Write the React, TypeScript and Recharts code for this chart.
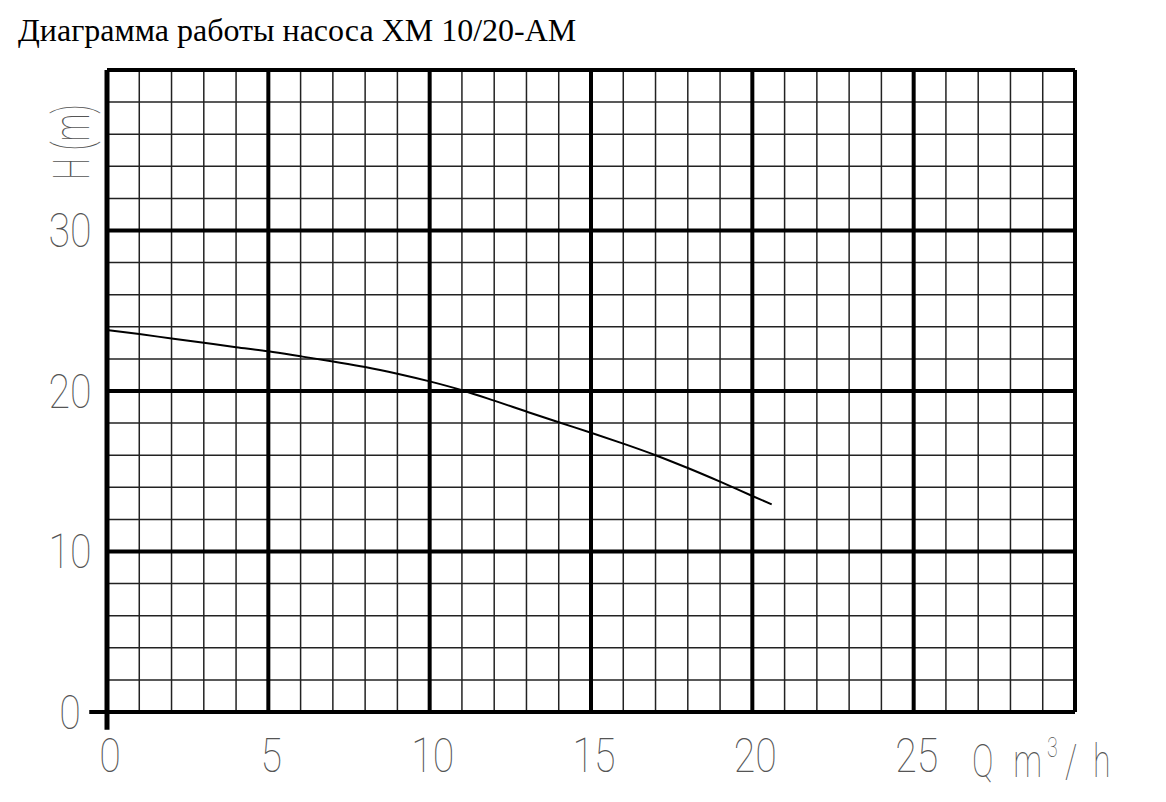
import { LineChart, Line, XAxis, YAxis, ReferenceLine } from 'recharts';

const flowQ = [0, 1, 2, 3, 4, 5, 6, 7, 8, 9, 10, 11, 12, 13, 14, 15, 16, 17, 18, 19, 20, 20.6];
const headH = [23.8, 23.55, 23.27, 23.0, 22.73, 22.47, 22.16, 21.84, 21.5, 21.08, 20.6, 20.05, 19.4, 18.72, 18.05, 17.4, 16.72, 16.0, 15.2, 14.35, 13.46, 12.94];

const xTicks = [0, 5, 10, 15, 20, 25];
const yTicks = [0, 10, 20, 30];
const xMinor = [1, 2, 3, 4, 6, 7, 8, 9, 11, 12, 13, 14, 16, 17, 18, 19, 21, 22, 23, 24, 26, 27, 28, 29];
const yMinor = [2, 4, 6, 8, 12, 14, 16, 18, 22, 24, 26, 28, 32, 34, 36, 38];
const xMajor = [5, 10, 15, 20, 25];
const yMajor = [10, 20, 30];

const data = flowQ.map((q, i) => ({ q, h: headH[i] }));

const LABEL_FONT = 'Roboto, "DejaVu Sans Condensed", sans-serif';
const LABEL_COLOR = '#555';

const XTick = (props: any) => {
  const { x, y, payload } = props;
  return (
    <text x={x + 3} y={y + 52} textAnchor="middle" fontFamily={LABEL_FONT} fontSize={48} fontWeight={100} fill={LABEL_COLOR} transform="scale(0.82 1)" transform-origin={`${x + 3} ${y}`}>
      {payload.value}
    </text>
  );
};

const YTick = (props: any) => {
  const { y, payload } = props;
  return (
    <text x={70} y={y + 17} textAnchor="middle" fontFamily={LABEL_FONT} fontSize={48} fontWeight={100} fill={LABEL_COLOR} transform="scale(0.82 1)" transform-origin={`70 ${y}`}>
      {payload.value}
    </text>
  );
};

export default function App() {
  return (
    <div style={{ position: 'fixed', left: 0, top: 0, width: 1166, height: 802, background: '#fff' }}>
      <div style={{ position: 'absolute', left: 18, top: 12, fontFamily: '"Liberation Serif", "Times New Roman", serif', fontSize: 32, color: '#000', whiteSpace: 'nowrap' }}>
        Диаграмма работы насоса ХМ 10/20-АМ
      </div>
      <LineChart width={1166} height={802} data={data} margin={{ top: 70, right: 91, bottom: 0, left: 47 }}>
        <XAxis dataKey="q" type="number" domain={[0, 30]} ticks={xTicks} interval={0} axisLine={false} tickLine={false} tick={<XTick />} height={90} />
        <YAxis type="number" domain={[0, 40]} ticks={yTicks} interval={0} axisLine={false} tickLine={false} tick={<YTick />} width={60} />
        {xMinor.map((v) => (
          <ReferenceLine key={'xm' + v} x={v} stroke="#222" strokeWidth={1.5} />
        ))}
        {yMinor.map((v) => (
          <ReferenceLine key={'ym' + v} y={v} stroke="#222" strokeWidth={1.5} />
        ))}
        {xMajor.map((v) => (
          <ReferenceLine key={'xM' + v} x={v} stroke="#000" strokeWidth={4} />
        ))}
        {yMajor.map((v) => (
          <ReferenceLine key={'yM' + v} y={v} stroke="#000" strokeWidth={4} />
        ))}
        <ReferenceLine y={40} stroke="#000" strokeWidth={4} />
        <ReferenceLine x={30} stroke="#000" strokeWidth={4} />
        <ReferenceLine ifOverflow="visible" segment={[{ x: 0, y: -1.1 }, { x: 0, y: 40 }]} stroke="#000" strokeWidth={5} />
        <ReferenceLine ifOverflow="visible" segment={[{ x: -0.55, y: 0 }, { x: 30, y: 0 }]} stroke="#000" strokeWidth={4} />
        <Line dataKey="h" type="monotone" stroke="#000" strokeWidth={2} dot={false} isAnimationActive={false} />
        <g transform="translate(89 142) rotate(-90) scale(0.62 1)">
          <text x={0} y={0} textAnchor="middle" fontFamily={LABEL_FONT} fontSize={50} fontWeight={100} fill={LABEL_COLOR}>
            H (m)
          </text>
        </g>
        <g transform="translate(972 777) scale(0.7 1)" fontFamily={LABEL_FONT} fontWeight={100} fill={LABEL_COLOR}>
          <text fontSize={46}>
            <tspan x={0} y={0}>Q</tspan>
            <tspan x={59}>m</tspan>
            <tspan x={107} y={-20} fontSize={28}>3</tspan>
            <tspan x={133} y={0}>/</tspan>
            <tspan x={173}>h</tspan>
          </text>
        </g>
      </LineChart>
    </div>
  );
}
